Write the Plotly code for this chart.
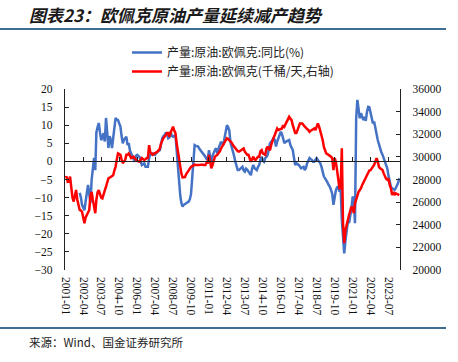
import pandas as pd
import plotly.graph_objects as go

# ---- data (monthly) ----
start_month = "2001-01-01"
n_months = 280
months = pd.date_range(start_month, periods=n_months, freq="MS")

# OPEC crude output YoY (%), starts 2002-01
yoy_2002 = [-8.7, -10, -12, -12.9, -13.5, -11, -9, -6.5, -9, -11.5, -5, -1]
yoy_2003 = [1, -2.4, 8, 9.5, 10.6, 8, 5.9, 6.5, 7.8, 5.5, 12, 8]
yoy_2004 = [3.7, 7, 6, 3.7, 6.5, 9, 12, 11.5, 11.4, 10.5, 9.6, 7]
yoy_2005 = [5, 6, 6.5, 6.8, 4.5, 5, 3, 2.2, 1.5, 0.4, -0.1, 1.5]
yoy_2006 = [1.8, 1.5, 1.3, 0, -1, -0.8, -0.5, -1.5, -1.5, -1.5, 1, 1.8]
yoy_2007 = [2, 2.2, 2, 1.8, 2.3, 2.7, 2.9, 3.1, 5, 6.4, 7, 7.3]
yoy_2008 = [8, 7.5, 6.4, 6.6, 8.2, 7, 6.8, 7.2, 7.3, 3.1, -1, -6]
yoy_2009 = [-9.5, -11.6, -12.5, -12, -11.8, -11.6, -11.3, -11.1, -10.5, -9, -4.5, 0]
yoy_2010 = [4.5, 4.3, 4.2, 4.1, 3.5, 3.1, 2.6, 2.2, 1.8, 1.3, 0.6, 0.4]
yoy_2011 = [3.1, 1.5, -0.5, 1.5, 2.7, 3.2, 3.6, 2.2, 3.5, 4.5, 5.4, 5]
yoy_2012 = [4.5, 6.5, 8, 10, 9.5, 8.5, 5.2, 4, 3.1, 1.5, -0.1, -1.5]
yoy_2013 = [-2.4, -2.4, -2.2, -1.8, -1.5, -2.5, -2.8, -2, -2.3, -2.8, -3.3, -3.8]
yoy_2014 = [-2, -1, -1.8, -2.2, -2.4, -1.5, -1, 0.5, 1.3, 0.2, -0.1, 0.9]
yoy_2015 = [1.2, 1.8, 3.5, 5, 5.4, 6, 6.4, 5.9, 4.1, 5.5, 6.4, 7.8]
yoy_2016 = [8.2, 7.5, 5.9, 5, 5.4, 5.6, 5.9, 5.9, 4.5, 3.6, 3.1, 1]
yoy_2017 = [-1, -0.5, -0.7, -1, -1.4, -1.9, -1.7, -1.5, -2.4, -1.8, -0.5, 0.4]
yoy_2018 = [0.9, 0.6, 0.4, -0.1, -0.1, 0.5, 0.9, 0.4, -0.1, -0.5, -1.5, -3.3]
yoy_2019 = [-4.2, -4.7, -5.1, -5.8, -6.5, -7, -7.9, -9, -12, -9.5, -8, -7.2]
yoy_2020 = [-7, -8.4, -7.5, -16.2, -21.7, -25.4, -22, -19, -16.7, -17, -15, -13]
yoy_2021 = [-9.7, -10.6, -17.1, 12, 17, 14.2, 11.9, 13.3, 12, 11.4, 12.3, 11.2]
yoy_2022 = [13.7, 15.1, 15, 13.5, 12.3, 10.5, 11, 9, 7.5, 5.9, 4.8, 3.5]
yoy_2023 = [2.5, 1.8, 1, 0, -1, -2, -4, -5.5, -7, -7.4, -7.8, -7.9]
yoy_2024 = [-7.4, -6.8, -6, -4.7]

# OPEC crude output (thousand b/d), starts 2001-01
prod_2001 = [28160, 28260, 27810, 27870, 28260, 27200, 26400, 26050, 26720, 27070, 26210, 25820]
prod_2002 = [25310, 25250, 25150, 24640, 24130, 24640, 24860, 25120, 25310, 26560, 26910, 26210]
prod_2003 = [25440, 25020, 26210, 26880, 27070, 26780, 26400, 26340, 26620, 27040, 27360, 27680]
prod_2004 = [28100, 28160, 28220, 28320, 28380, 28800, 29120, 29760, 30300, 30240, 30180, 29760]
prod_2005 = [29440, 29600, 29730, 30180, 30180, 30300, 30080, 29890, 29950, 30020, 29860, 29730]
prod_2006 = [29660, 29600, 29570, 29760, 29890, 29790, 29730, 29790, 29890, 29890, 31040, 30400]
prod_2007 = [30300, 30180, 30270, 30370, 30400, 30460, 30590, 30750, 31200, 31490, 31680, 31780]
prod_2008 = [32000, 32100, 32100, 31780, 32160, 32510, 32670, 32320, 32100, 31200, 30460, 29760]
prod_2009 = [28990, 28480, 28190, 28190, 28220, 28480, 28640, 28830, 28990, 29120, 29180, 29250]
prod_2010 = [29310, 29280, 29280, 29220, 29280, 29310, 29340, 29310, 29280, 29280, 29470, 29470]
prod_2011 = [30180, 29440, 28990, 29280, 29760, 30020, 30110, 30180, 30340, 30460, 30720, 30910]
prod_2012 = [31140, 31330, 31520, 31650, 31580, 31490, 31360, 31260, 31040, 30910, 30720, 30590]
prod_2013 = [30500, 30460, 30530, 30590, 30690, 30750, 30460, 30300, 30180, 30180, 29920, 29570]
prod_2014 = [29790, 30020, 29790, 29730, 29890, 30020, 30020, 30500, 30590, 30300, 30240, 30180]
prod_2015 = [30720, 30910, 30720, 30590, 31040, 31490, 31680, 31940, 32220, 32510, 32380, 32420]
prod_2016 = [32480, 32510, 32800, 32670, 32900, 33120, 33250, 33540, 33380, 33250, 32800, 32320]
prod_2017 = [32100, 32100, 32380, 32670, 32960, 32960, 32960, 32800, 32670, 32510, 32450, 32380]
prod_2018 = [32220, 32320, 32380, 32380, 32510, 32380, 32640, 32960, 32670, 32320, 32000, 31490]
prod_2019 = [30880, 30620, 30300, 30240, 30180, 30080, 30020, 29890, 28830, 29890, 29570, 28830]
prod_2020 = [28100, 27230, 27230, 30750, 24130, 22370, 23520, 24130, 24420, 24860, 25310, 25600]
prod_2021 = [25440, 25020, 25890, 26240, 26620, 26910, 27070, 27230, 27520, 27740, 27970, 28160]
prod_2022 = [28380, 28700, 28800, 28830, 28990, 29120, 29280, 29570, 29890, 29600, 29120, 28990]
prod_2023 = [28900, 28830, 28540, 28260, 28060, 27970, 28100, 27520, 27230, 26620, 26910, 26620]
prod_2024 = [26780, 26720, 26660, 26620]

yoy = (yoy_2002 + yoy_2003 + yoy_2004 + yoy_2005 + yoy_2006 + yoy_2007 + yoy_2008
       + yoy_2009 + yoy_2010 + yoy_2011 + yoy_2012 + yoy_2013 + yoy_2014 + yoy_2015
       + yoy_2016 + yoy_2017 + yoy_2018 + yoy_2019 + yoy_2020 + yoy_2021 + yoy_2022
       + yoy_2023 + yoy_2024)
prod = (prod_2001 + prod_2002 + prod_2003 + prod_2004 + prod_2005 + prod_2006 + prod_2007
        + prod_2008 + prod_2009 + prod_2010 + prod_2011 + prod_2012 + prod_2013 + prod_2014
        + prod_2015 + prod_2016 + prod_2017 + prod_2018 + prod_2019 + prod_2020 + prod_2021
        + prod_2022 + prod_2023 + prod_2024)

tick_labels = ["2001-01", "2002-04", "2003-07", "2004-10", "2006-01", "2007-04",
               "2008-07", "2009-10", "2011-01", "2012-04", "2013-07", "2014-10",
               "2016-01", "2017-04", "2018-07", "2019-10", "2021-01", "2022-04", "2023-07"]
tick_dates = [pd.Timestamp(t + "-01") for t in tick_labels]

name_yoy = "产量:原油:欧佩克:同比(%)"
name_prod = "产量:原油:欧佩克(千桶/天,右轴)"
title_text = "图表23：欧佩克原油产量延续减产趋势"
source_text = "来源：Wind、国金证券研究所"

# ---- layout helpers (pixel -> paper) ----
W, H = 458, 362
L, R, T, B = 65, 58, 89, 92
PW, PH = W - L - R, H - T - B
def px(x): return (x - L) / PW
def py(y): return (H - B - y) / PH

serif = "'Liberation Serif', 'Times New Roman', serif"
cjk = "'Noto Sans CJK SC', 'Liberation Serif', sans-serif"

fig = go.Figure()
fig.add_trace(go.Scatter(x=months[12:12 + len(yoy)], y=yoy, name=name_yoy, mode="lines",
                         line=dict(color="#4472C4", width=2.5), yaxis="y", xaxis="x",
                         legendgroup="a"))
fig.add_trace(go.Scatter(x=months[:len(prod)], y=prod, name=name_prod, mode="lines",
                         line=dict(color="#FF0000", width=2.5), yaxis="y2", xaxis="x",
                         legendgroup="b"))
# carrier for the zero-crossing category axis
fig.add_trace(go.Scatter(x=[months[0], months[-1]], y=[0, 0], xaxis="x2", yaxis="y",
                         mode="lines", line=dict(width=0), opacity=0,
                         showlegend=False, hoverinfo="skip"))

xr = [months[0] - pd.Timedelta(days=9), months[-1] + pd.Timedelta(days=18)]

fig.update_layout(
    width=W, height=H, autosize=False,
    margin=dict(l=L, r=R, t=T, b=B, pad=0),
    paper_bgcolor="white", plot_bgcolor="white",
    showlegend=True,
    legend=dict(x=px(127), y=py(38), xanchor="left", yanchor="top",
                font=dict(family=cjk, size=12, color="#222"),
                bgcolor="rgba(0,0,0,0)", tracegroupgap=6, traceorder="normal"),
    xaxis=dict(type="date", range=xr, tickvals=tick_dates, ticktext=tick_labels,
               tickangle=90, showline=False, ticks="", showgrid=False, zeroline=False,
               ticklabelstandoff=6,
               tickfont=dict(family=serif, size=11.5, color="#111")),
    xaxis2=dict(type="date", range=xr, overlaying="x", anchor="free", position=0.6,
                tickvals=tick_dates, showticklabels=False, ticks="inside", ticklen=4,
                tickcolor="#222", showline=True, linecolor="#222", linewidth=1.3,
                showgrid=False, zeroline=False),
    yaxis=dict(range=[-30, 20], dtick=5, tick0=0, ticks="inside", ticklen=4,
               showline=True, linecolor="#222", linewidth=1.2, tickcolor="#222",
               showgrid=False, zeroline=False, ticklabelstandoff=9,
               tickfont=dict(family=serif, size=11.5, color="#111")),
    yaxis2=dict(range=[20000, 36000], dtick=2000, tickformat="d", overlaying="y",
                side="right", ticks="inside", ticklen=4, showline=True, linecolor="#222",
                linewidth=1.2, tickcolor="#222", showgrid=False, zeroline=False,
                ticklabelstandoff=9,
                tickfont=dict(family=serif, size=11.5, color="#111")),
    shapes=[
        dict(type="line", xref="paper", yref="paper", x0=px(0), x1=px(446),
             y0=py(29), y1=py(29), line=dict(color="#3D6F93", width=2)),
        dict(type="line", xref="paper", yref="paper", x0=px(0), x1=px(446),
             y0=py(328), y1=py(328), line=dict(color="#3D6F93", width=2)),
    ],
    annotations=[
        dict(text="<b><i>" + title_text + "</i></b>", xref="paper", yref="paper",
             x=px(27), y=py(14), xanchor="left", yanchor="middle", showarrow=False,
             font=dict(family=cjk, size=17, color="#1a1a1a")),
        dict(text=source_text, xref="paper", yref="paper",
             x=px(27), y=py(342), xanchor="left", yanchor="middle", showarrow=False,
             font=dict(family=cjk, size=11.5, color="#222")),
    ],
)

fig.write_html("out.html", config={"displayModeBar": False},
               post_script="document.body.style.margin='0';")
